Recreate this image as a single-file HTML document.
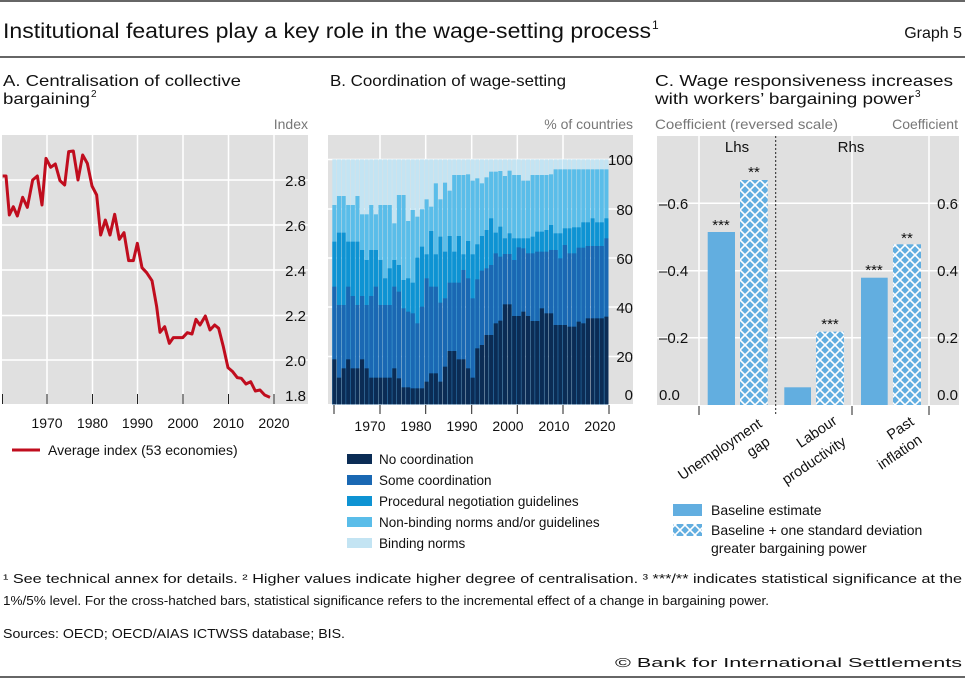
<!DOCTYPE html>
<html><head><meta charset="utf-8"><style>
body{margin:0;background:#fff}
svg{display:block;font-family:"Liberation Sans",sans-serif}
</style></head><body>
<svg id="s" width="965" height="680" viewBox="0 0 965 680">
<defs>
<pattern id="hatch" width="10" height="10" patternUnits="userSpaceOnUse">
<rect width="10" height="10" fill="#62aee0"/>
<path d="M0,0L10,10M10,0L0,10M-5,5L5,15M5,-5L15,5M5,15L15,5M-5,5L5,-5" stroke="#fff" stroke-width="1.6"/>
</pattern>
</defs>
<line x1="0" y1="1" x2="965" y2="1" stroke="#333" stroke-width="1.5"/>
<text x="3" y="38" font-size="21" fill="#111" textLength="648" lengthAdjust="spacingAndGlyphs">Institutional features play a key role in the wage-setting process</text>
<text x="652" y="29" font-size="12" fill="#111">1</text>
<text x="962" y="38" font-size="16" fill="#111" text-anchor="end">Graph 5</text>
<line x1="0" y1="57" x2="965" y2="57" stroke="#333" stroke-width="1.5"/>

<!-- Panel A -->
<text x="3" y="86" font-size="16" fill="#111" textLength="238" lengthAdjust="spacingAndGlyphs">A. Centralisation of collective</text>
<text x="3" y="104" font-size="16" fill="#111" textLength="87" lengthAdjust="spacingAndGlyphs">bargaining</text>
<text x="91" y="97" font-size="10" fill="#111">2</text>
<text x="308" y="129" font-size="14" fill="#777" text-anchor="end">Index</text>
<rect x="2" y="135" width="306" height="269" fill="#e0e0e0"/>
<g stroke="#fff" stroke-width="1.5">
<line x1="47" y1="135" x2="47" y2="404"/><line x1="92.5" y1="135" x2="92.5" y2="404"/><line x1="137.5" y1="135" x2="137.5" y2="404"/><line x1="183" y1="135" x2="183" y2="404"/><line x1="228.5" y1="135" x2="228.5" y2="404"/><line x1="274" y1="135" x2="274" y2="404"/>
<line x1="2" y1="180" x2="308" y2="180"/><line x1="2" y1="225" x2="308" y2="225"/><line x1="2" y1="270" x2="308" y2="270"/><line x1="2" y1="315.5" x2="308" y2="315.5"/><line x1="2" y1="360" x2="308" y2="360"/>
</g>
<g stroke="#222" stroke-width="1"><line x1="2.5" y1="394" x2="2.5" y2="404"/><line x1="47" y1="394" x2="47" y2="404"/><line x1="92.5" y1="394" x2="92.5" y2="404"/><line x1="137.5" y1="394" x2="137.5" y2="404"/><line x1="183" y1="394" x2="183" y2="404"/><line x1="228.5" y1="394" x2="228.5" y2="404"/><line x1="274" y1="394" x2="274" y2="404"/></g>
<g font-size="15" fill="#111" text-anchor="end">
<text x="306" y="186">2.8</text><text x="306" y="231">2.6</text><text x="306" y="276">2.4</text><text x="306" y="321">2.2</text><text x="306" y="366">2.0</text><text x="306" y="401">1.8</text>
</g>
<g transform="translate(0,110) scale(0.33333)">
<polyline fill="none" stroke="#c00d1e" stroke-width="9" stroke-linejoin="round" points="8,198 18,198 28,315 40,290 52,318 68,262 82,292 98,210 112,198 126,285 138,145 152,172 166,162 180,212 194,225 206,125 220,123 234,210 248,135 262,160 276,228 290,255 302,375 316,330 330,375 344,313 358,388 372,368 386,452 400,452 412,400 426,473 440,488 456,512 470,590 480,667 494,650 508,700 520,683 548,683 562,668 576,672 588,628 600,645 616,618 630,660 644,645 656,655 670,710 684,773 698,785 712,803 724,805 738,822 752,815 766,843 780,840 794,855 810,862"/>
</g>
<g font-size="14" fill="#111" text-anchor="middle">
<text x="47" y="428">1970</text><text x="92.5" y="428">1980</text><text x="137.5" y="428">1990</text><text x="183" y="428">2000</text><text x="228.5" y="428">2010</text><text x="274" y="428">2020</text>
</g>
<line x1="12" y1="450" x2="40" y2="450" stroke="#c00d1e" stroke-width="3"/>
<text x="48" y="455" font-size="14" fill="#111">Average index (53 economies)</text>

<!-- Panel B -->
<text x="330" y="86" font-size="16" fill="#111" textLength="236" lengthAdjust="spacingAndGlyphs">B. Coordination of wage-setting</text>
<text x="633" y="129" font-size="14" fill="#777" text-anchor="end">% of countries</text>
<rect x="328" y="135" width="305" height="269" fill="#e0e0e0"/>
<g stroke="#fff" stroke-width="1.5">
<line x1="380" y1="135" x2="380" y2="404"/><line x1="425.7" y1="135" x2="425.7" y2="404"/><line x1="471.7" y1="135" x2="471.7" y2="404"/><line x1="517.3" y1="135" x2="517.3" y2="404"/><line x1="563" y1="135" x2="563" y2="404"/>
<line x1="328" y1="159.5" x2="633" y2="159.5"/><line x1="328" y1="209" x2="633" y2="209"/><line x1="328" y1="258" x2="633" y2="258"/><line x1="328" y1="307" x2="633" y2="307"/><line x1="328" y1="356.5" x2="633" y2="356.5"/>
</g>
<g id="bars" transform="translate(325,110) scale(0.33333)"></g>
<g stroke="#222" stroke-width="1"><line x1="334" y1="405" x2="334" y2="414"/><line x1="380" y1="405" x2="380" y2="414"/><line x1="425.7" y1="405" x2="425.7" y2="414"/><line x1="471.7" y1="405" x2="471.7" y2="414"/><line x1="517.3" y1="405" x2="517.3" y2="414"/><line x1="563" y1="405" x2="563" y2="414"/><line x1="609" y1="405" x2="609" y2="414"/></g>
<g font-size="15" fill="#111" text-anchor="end">
<text x="633" y="165">100</text><text x="633" y="215">80</text><text x="633" y="264">60</text><text x="633" y="313">40</text><text x="633" y="362">20</text><text x="633" y="400">0</text>
</g>
<g font-size="14" fill="#111" text-anchor="middle">
<text x="370" y="431">1970</text><text x="416" y="431">1980</text><text x="462" y="431">1990</text><text x="508" y="431">2000</text><text x="554" y="431">2010</text><text x="600" y="431">2020</text>
</g>
<g font-size="13.5" fill="#111">
<rect x="347" y="454" width="25" height="10" fill="#0b2c55"/><text x="379" y="464">No coordination</text>
<rect x="347" y="475" width="25" height="10" fill="#1a68b3"/><text x="379" y="485">Some coordination</text>
<rect x="347" y="496" width="25" height="10" fill="#0e93d3"/><text x="379" y="506">Procedural negotiation guidelines</text>
<rect x="347" y="517" width="25" height="10" fill="#5abde9"/><text x="379" y="527">Non-binding norms and/or guidelines</text>
<rect x="347" y="538" width="25" height="10" fill="#c3e4f3"/><text x="379" y="548">Binding norms</text>
</g>

<!-- Panel C -->
<text x="655" y="86" font-size="16" fill="#111" textLength="298" lengthAdjust="spacingAndGlyphs">C. Wage responsiveness increases</text>
<text x="655" y="104" font-size="16" fill="#111" textLength="259" lengthAdjust="spacingAndGlyphs">with workers’ bargaining power</text>
<text x="915" y="97" font-size="10" fill="#111">3</text>
<text x="655" y="129" font-size="14" fill="#777" textLength="183" lengthAdjust="spacingAndGlyphs">Coefficient (reversed scale)</text>
<text x="958" y="129" font-size="14" fill="#777" text-anchor="end">Coefficient</text>
<rect x="657" y="136" width="302" height="269" fill="#e0e0e0"/>
<g stroke="#fff" stroke-width="1.5">
<line x1="699" y1="136" x2="699" y2="405"/><line x1="852" y1="136" x2="852" y2="405"/><line x1="929" y1="136" x2="929" y2="405"/>
<line x1="657" y1="203.3" x2="959" y2="203.3"/><line x1="657" y1="270.7" x2="959" y2="270.7"/><line x1="657" y1="337.7" x2="959" y2="337.7"/>
</g>
<line x1="775.7" y1="136" x2="775.7" y2="415" stroke="#222" stroke-width="1" stroke-dasharray="2,2"/>
<rect x="707.7" y="232" width="27.3" height="173" fill="#62aee0"/>
<rect x="740" y="180" width="27.7" height="225" fill="url(#hatch)"/>
<rect x="784.3" y="387.3" width="26.7" height="17.7" fill="#62aee0"/>
<rect x="816" y="331.7" width="28" height="73.3" fill="url(#hatch)"/>
<rect x="861" y="277.7" width="26.7" height="127.3" fill="#62aee0"/>
<rect x="893" y="244.3" width="28" height="160.7" fill="url(#hatch)"/>
<g font-size="15" fill="#111" text-anchor="middle">
<text x="721" y="230">***</text><text x="754" y="177">**</text><text x="830" y="329">***</text><text x="874" y="275">***</text><text x="907" y="243">**</text>
</g>
<text x="737" y="152" font-size="15" fill="#111" text-anchor="middle">Lhs</text>
<text x="851" y="152" font-size="15" fill="#111" text-anchor="middle">Rhs</text>
<g font-size="15" fill="#111">
<text x="659" y="209">–0.6</text><text x="659" y="276">–0.4</text><text x="659" y="343">–0.2</text><text x="659" y="400">0.0</text>
</g>
<g font-size="15" fill="#111" text-anchor="end">
<text x="958" y="209">0.6</text><text x="958" y="276">0.4</text><text x="958" y="343">0.2</text><text x="958" y="400">0.0</text>
</g>
<g stroke="#222" stroke-width="1"><line x1="699" y1="406" x2="699" y2="415"/><line x1="852" y1="406" x2="852" y2="415"/><line x1="929" y1="406" x2="929" y2="415"/></g>
<g font-size="14.5" fill="#111" text-anchor="end">
<text transform="translate(763,426) rotate(-34)">Unemployment</text>
<text transform="translate(771,444) rotate(-34)">gap</text>
<text transform="translate(838,423) rotate(-34)">Labour</text>
<text transform="translate(847,444) rotate(-34)">productivity</text>
<text transform="translate(915,424) rotate(-34)">Past</text>
<text transform="translate(923,442) rotate(-34)">inflation</text>
</g>
<rect x="673" y="504" width="29" height="12" fill="#62aee0"/>
<rect x="673" y="524" width="29" height="12" fill="url(#hatch)"/>
<g font-size="14" fill="#111">
<text x="711" y="515">Baseline estimate</text>
<text x="711" y="535">Baseline + one standard deviation</text>
<text x="711" y="553">greater bargaining power</text>
</g>

<!-- Footnotes -->
<g font-size="12.5" fill="#111">
<text x="3" y="583" textLength="959" lengthAdjust="spacingAndGlyphs">¹  See technical annex for details.    ²  Higher values indicate higher degree of centralisation.    ³  ***/** indicates statistical significance at the</text>
<text x="3" y="605" textLength="766" lengthAdjust="spacingAndGlyphs">1%/5% level. For the cross-hatched bars, statistical significance refers to the incremental effect of a change in bargaining power.</text>
<text x="3" y="638" textLength="342" lengthAdjust="spacingAndGlyphs">Sources: OECD; OECD/AIAS ICTWSS database; BIS.</text>
<text x="962" y="667" text-anchor="end" textLength="347" lengthAdjust="spacingAndGlyphs">© Bank for International Settlements</text>
</g>
<line x1="0" y1="677" x2="965" y2="677" stroke="#333" stroke-width="1.5"/>
</svg>
<script>
var d=[748,803,775,748,775,775,748,775,803,803,803,803,803,775,805,832,832,835,835,835,815,790,790,815,770,723,723,748,748,775,803,715,705,675,675,640,632,583,583,618,618,605,618,633,633,595,610,610,645,645,645,650,650,635,640,625,625,625,625,620];
var s=[530,585,585,530,558,585,558,585,558,530,585,585,585,530,545,595,605,610,640,590,505,530,530,578,565,518,518,518,480,505,565,508,482,475,465,430,440,432,432,450,412,415,430,430,425,425,425,420,420,445,405,430,430,413,413,408,408,408,408,385];
var p=[395,368,368,395,395,395,420,450,420,420,450,505,475,450,465,510,505,518,443,410,433,363,433,380,425,378,425,378,433,393,433,403,378,360,325,368,350,385,370,385,385,385,385,380,365,365,360,345,370,370,355,355,352,352,337,337,325,337,337,325];
var n=[285,258,258,285,285,258,313,313,285,313,285,285,285,340,255,255,333,300,320,298,268,290,220,268,218,242,195,195,195,193,212,205,220,202,185,185,183,198,182,195,195,212,212,195,195,195,195,193,178,178,178,178,178,178,178,178,178,178,178,178];
var g=document.getElementById('bars'),h='';
var cols=['#c3e4f3','#5abde9','#0e93d3','#1a68b3','#0b2c55'];
for(var i=0;i<60;i++){var x=22+i*13.83,tops=[148,n[i],p[i],s[i],d[i]];
for(var k=0;k<5;k++){h+='<rect x="'+x.toFixed(1)+'" y="'+tops[k]+'" width="12.4" height="'+(883-tops[k])+'" fill="'+cols[k]+'"/>';}}
g.innerHTML=h;
</script>
</body></html>
